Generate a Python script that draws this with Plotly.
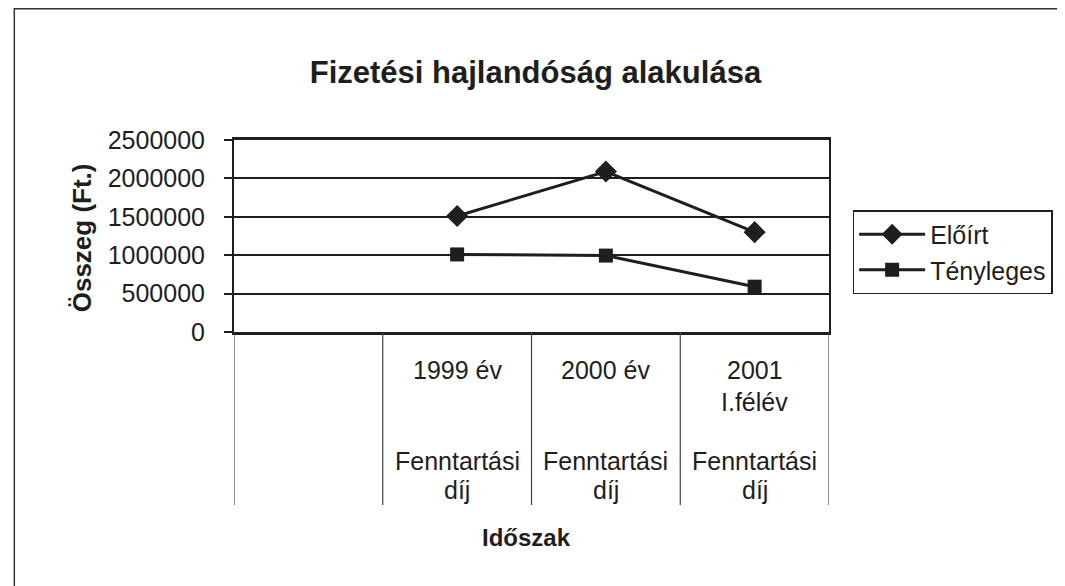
import plotly.graph_objects as go

categories = ["", "1999 év", "2000 év", "2001<br>I.félév"]
sub_labels = ["", "Fenntartási<br>díj", "Fenntartási<br>díj", "Fenntartási<br>díj"]
eloirt = [None, 1510000, 2090000, 1300000]
tenyleges = [None, 1010000, 995000, 590000]
y_ticks = [0, 500000, 1000000, 1500000, 2000000, 2500000]

FONT = "Arial, Liberation Sans, sans-serif"
INK = "#1e1e1e"
xs = list(range(len(categories)))

W, H = 1057, 578
L, T, PW, PH = 226, 132, 604, 192

def py(screen_y):
    # paper y from a page y coordinate (page has an 8px body margin)
    return (T + PH - (screen_y - 8)) / PH

def px(screen_x):
    return ((screen_x - 8) - L) / PW

fig = go.Figure()
fig.add_trace(go.Scatter(
    x=xs, y=eloirt, name="Előírt", mode="lines+markers",
    line=dict(color=INK, width=3),
    marker=dict(symbol="diamond", size=17, color=INK),
))
fig.add_trace(go.Scatter(
    x=xs, y=tenyleges, name="Tényleges", mode="lines+markers",
    line=dict(color=INK, width=3),
    marker=dict(symbol="square", size=14, color=INK),
))

# category dividers below the axis
for b in [i - 0.5 for i in range(len(categories) + 1)]:
    fig.add_shape(type="line", xref="x", yref="paper", x0=b, x1=b, y0=0, y1=py(505),
                  line=dict(color="#444", width=1.2))

label_font = dict(family=FONT, size=25, color=INK)
annotations = []
top_rows = [370, 402]
bot_rows = [461, 490]
for i, (top, bot) in enumerate(zip(categories, sub_labels)):
    for row, line in zip(top_rows, top.split("<br>") if top else []):
        annotations.append(dict(x=i, y=py(row), xref="x", yref="paper", text=line,
                                showarrow=False, yanchor="middle", xanchor="center",
                                font=label_font))
    for row, line in zip(bot_rows, bot.split("<br>") if bot else []):
        annotations.append(dict(x=i, y=py(row), xref="x", yref="paper", text=line,
                                showarrow=False, yanchor="middle", xanchor="center",
                                font=label_font))
annotations.append(dict(x=px(531), y=py(537), xref="paper", yref="paper", text="<b>Időszak</b>",
                        showarrow=False, yanchor="middle", xanchor="center",
                        font=dict(family=FONT, size=24, color=INK)))
annotations.append(dict(x=px(80), y=py(238), xref="paper", yref="paper", text="<b>Összeg (Ft.)</b>",
                        showarrow=False, yanchor="middle", xanchor="center", textangle=-90,
                        font=dict(family=FONT, size=26, color=INK)))

# outer chart border
fig.add_shape(type="rect", xref="paper", yref="paper", x0=px(11), x1=1.6, y0=-1.6, y1=py(8.75),
              line=dict(color="#333", width=1.5), layer="below")

fig.update_layout(
    width=W, height=H,
    margin=dict(l=L, r=W - L - PW, t=T, b=H - T - PH),
    paper_bgcolor="white", plot_bgcolor="white",
    title=dict(text="<b>Fizetési hajlandóság alakulása</b>", x=px(540), xanchor="center",
               xref="paper", y=1 - (72 - 8) / H, yanchor="middle",
               font=dict(family=FONT, size=31, color=INK)),
    font=dict(family=FONT, color=INK),
    xaxis=dict(range=[-0.5, len(categories) - 0.5], showticklabels=False, showgrid=False,
               zeroline=False, showline=True, mirror=True, linecolor=INK, linewidth=2.5,
               ticks=""),
    yaxis=dict(range=[0, 2500000], tickvals=y_ticks, ticktext=[str(v) for v in y_ticks],
               showgrid=True, gridcolor=INK, gridwidth=2, zeroline=False,
               showline=True, mirror=True, linecolor=INK, linewidth=2,
               ticks="outside", ticklen=8, tickcolor=INK, tickwidth=1.5,
               ticklabelstandoff=14,
               tickfont=dict(family=FONT, size=25, color=INK)),
    legend=dict(x=px(862), y=py(210), xanchor="left", yanchor="top",
                bordercolor=INK, borderwidth=1.5, bgcolor="white", itemwidth=66,
                font=dict(family=FONT, size=25, color=INK), tracegroupgap=0),
    annotations=annotations,
    showlegend=True,
)

fig.write_html("out.html")
